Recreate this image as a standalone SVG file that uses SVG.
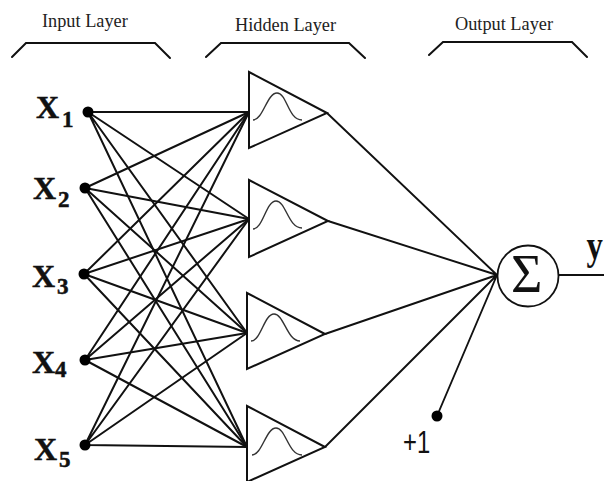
<svg xmlns="http://www.w3.org/2000/svg" width="604" height="481" viewBox="0 0 604 481">
<style>
.bg{fill:#fff}
.ln{stroke:#111;stroke-width:2;fill:none;stroke-linecap:round}
.fine{stroke:#111;stroke-width:1.9;fill:none}
.tri{stroke:#111;stroke-width:2;fill:#fff;stroke-linejoin:miter}
.gauss{stroke:#333;stroke-width:1.4;fill:none}
.dot{fill:#000}
.head{font-family:"Liberation Serif",serif;font-size:18.3px;fill:#222}
.x{font-family:"Liberation Serif",serif;font-weight:bold;font-size:32px;fill:#111;stroke:#111;stroke-width:.5}
.sub{font-size:23px}
</style>
<rect class="bg" width="604" height="481"/>
<g id="connectors">
<path class="ln" d="M88 112L249 112M88 112L249 219M88 112L247 333M88 112L247 447"/>
<path class="ln" d="M85 188L249 112M85 188L249 219M85 188L247 333M85 188L247 447"/>
<path class="ln" d="M84 274L249 112M84 274L249 219M84 274L247 333M84 274L247 447"/>
<path class="ln" d="M85 360L249 112M85 360L249 219M85 360L247 333M85 360L247 447"/>
<path class="ln" d="M85 445L249 112M85 445L249 219M85 445L247 333M85 445L247 447"/>
<path class="fine" d="M327 113L497 275M328 221L497 275M325 334L497 275M325 447L497 275M437 416L497 275M559 275L604 275"/>
<path class="ln" d="M12 57L26 43L155 43L170 58"/>
<path class="ln" d="M206 57L221 43L349 43L365 58"/>
<path class="ln" d="M429 55L443 42L572 42L587 57"/>
</g>
<g id="input-1"><circle class="dot" cx="88" cy="112" r="5.5"/><text class="x" x="36" y="118">X<tspan class="sub" dx="3" dy="9">1</tspan></text></g>
<g id="input-2"><circle class="dot" cx="85" cy="188" r="5.5"/><text class="x" x="33" y="199">X<tspan class="sub" dx="2" dy="8">2</tspan></text></g>
<g id="input-3"><circle class="dot" cx="84" cy="274" r="5.5"/><text class="x" x="32" y="287">X<tspan class="sub" dx="2" dy="7">3</tspan></text></g>
<g id="input-4"><circle class="dot" cx="85" cy="360" r="5.5"/><text class="x" x="32" y="373">X<tspan class="sub" dx="0" dy="4">4</tspan></text></g>
<g id="input-5"><circle class="dot" cx="85" cy="445" r="5.5"/><text class="x" x="34" y="460">X<tspan class="sub" dx="2" dy="7">5</tspan></text></g>
<g id="hidden-1"><path class="tri" d="M249 72L249 148L327 113Z"/><path class="gauss" d="M253 120C263 120 267 93 277 93C287 93 288 120 302 120"/></g>
<g id="hidden-2"><path class="tri" d="M249 180L249 257L328 221Z"/><path class="gauss" d="M253 229C263 229 266 201 276 201C286 201 288 228 302 228"/></g>
<g id="hidden-3"><path class="tri" d="M247 293L247 369L325 334Z"/><path class="gauss" d="M251 341C261 341 264 314 274 314C284 314 287 341 300 341"/></g>
<g id="hidden-4"><path class="tri" d="M247 406L247 482L325 447Z"/><path class="gauss" d="M252 455C262 455 266 428 276 428C286 428 288 455 302 455"/></g>
<g id="output"><circle cx="528" cy="276" r="30.5" fill="#fff" stroke="#111" stroke-width="1.8"/><text x="511" y="292" font-family="Liberation Serif, serif" font-size="54" fill="#111">Σ</text></g>
<g id="bias"><circle class="dot" cx="437" cy="416" r="5.5"/><text transform="translate(403 453) scale(.85 1.15)" font-family="Liberation Sans, sans-serif" font-size="28" fill="#111">+1</text></g>
<text class="head" x="42" y="27">Input Layer</text>
<text class="head" x="235" y="31">Hidden Layer</text>
<text class="head" x="455" y="30">Output Layer</text>
<text transform="translate(586.5 259) scale(.78 1)" font-family="Liberation Serif, serif" font-weight="bold" font-size="42" fill="#111">y</text>
</svg>
